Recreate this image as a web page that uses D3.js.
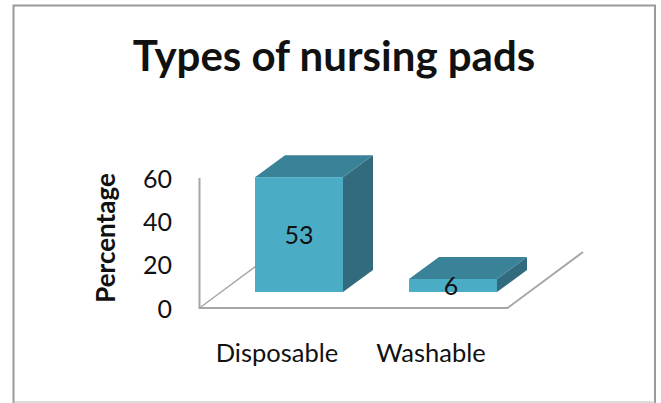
<!DOCTYPE html>
<html>
<head>
<meta charset="utf-8">
<script src="https://cdn.jsdelivr.net/npm/d3@7"></script>
<style>
html,body{margin:0;padding:0;background:#fff;}
svg{display:block;}
text{font-family:Lato,"Open Sans",sans-serif;fill:#111;}
</style>
</head>
<body>
<svg id="chart" width="661" height="403"></svg>
<script>
const chartTitle = "Types of nursing pads";
const yTitle = "Percentage";
const categories = ["Disposable", "Washable"];
const values = [53, 6];
const yTicks = [0, 20, 40, 60];

const svg = d3.select("#chart");
const depth = {x: 30, y: -22};
const floorDrop = 16;
const colors = {front: "#4bacc6", top: "#3a8297", side: "#316b7d", axis: "#a6a6a6", frame: "#9a9a9a"};

const x = d3.scaleBand().domain(categories).range([222, 530]).paddingInner(0.4286).paddingOuter(0.2143);
const y = d3.scaleLinear().domain([0, 60]).range([308, 178]);

// outer frame
svg.append("path")
  .attr("d", "M13.5,403V5.5H655V403")
  .attr("fill", "none").attr("stroke", colors.frame).attr("stroke-width", 2);
svg.append("line").attr("x1", 13).attr("x2", 655).attr("y1", 402).attr("y2", 402)
  .attr("stroke", "#bbb").attr("stroke-width", 1);

// title
svg.append("text").attr("x", 334).attr("y", 71).attr("text-anchor", "middle")
  .attr("font-size", 42).attr("font-weight", 700).text(chartTitle);

// floor and wall
const x0 = 199.5, xR = 507.5, y0 = y(0);
svg.append("path")
  .attr("d", `M${x0},${y(60)}V${y0}H${xR}L583,252`)
  .attr("fill", "none").attr("stroke", colors.axis).attr("stroke-width", 2);
svg.append("line").attr("x1", x0).attr("y1", y0).attr("x2", 256).attr("y2", 266)
  .attr("stroke", colors.axis).attr("stroke-width", 1.5);

// 3D bars
const bars = svg.append("g").selectAll("g")
  .data(categories.map((c, i) => ({c, v: values[i]})))
  .join("g");

bars.each(function(d) {
  const g = d3.select(this);
  const l = x(d.c), r = l + x.bandwidth();
  const b = y(0) - floorDrop, t = y(d.v) - floorDrop;
  g.append("path").attr("fill", colors.side)
    .attr("d", `M${r},${t}L${r + depth.x},${t + depth.y}V${b + depth.y}L${r},${b}Z`);
  g.append("path").attr("fill", colors.top)
    .attr("d", `M${l},${t}L${l + depth.x},${t + depth.y}H${r + depth.x}L${r},${t}Z`);
  g.append("rect").attr("fill", colors.front)
    .attr("x", l).attr("y", t).attr("width", x.bandwidth()).attr("height", b - t);
  g.append("text").attr("x", (l + r) / 2 + (d.v < 10 ? -2 : 0))
    .attr("y", (t + b) / 2 + 9 + (d.v < 10 ? 0 : 0))
    .attr("text-anchor", "middle").attr("font-size", 25).text(d.v);
});

// y axis labels
const yAxis = svg.append("g").attr("transform", "translate(172,1)")
  .call(d3.axisLeft(y).tickValues(yTicks).tickSize(0).tickPadding(0));
yAxis.select(".domain").remove();
yAxis.selectAll("text").attr("font-size", 25).attr("font-family", "Lato").attr("fill", "#111");

// y title
svg.append("text").attr("transform", "translate(115,238) rotate(-90)")
  .attr("text-anchor", "middle").attr("font-size", 26).attr("font-weight", 700).text(yTitle);

// category labels
const xAxis = svg.append("g").attr("transform", "translate(-22,343.5)")
  .call(d3.axisBottom(x).tickSize(0).tickPadding(0));
xAxis.select(".domain").remove();
xAxis.selectAll("text").attr("font-size", 25.5).attr("font-family", "Lato").attr("fill", "#111");
</script>
</body>
</html>
